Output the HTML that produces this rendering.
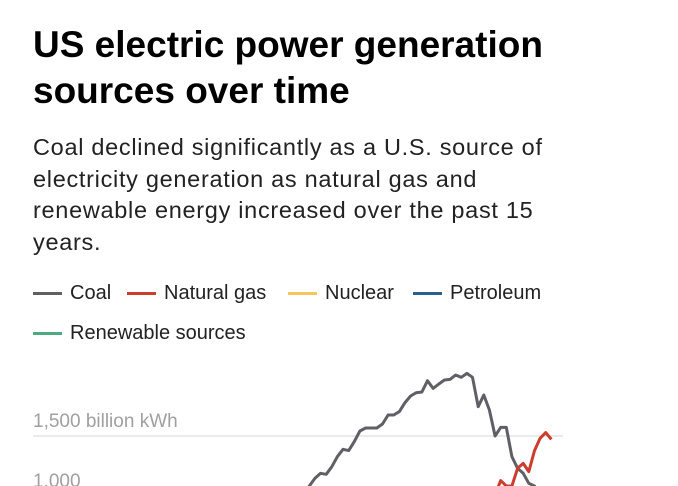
<!DOCTYPE html>
<html><head><meta charset="utf-8"><style>
body{margin:0;background:#fff;width:678px;height:486px;overflow:hidden;font-family:"Liberation Sans",sans-serif;position:relative}
#title{position:absolute;left:33px;top:22px;font-size:37px;font-weight:bold;line-height:46px;color:#000;margin:0;letter-spacing:0;white-space:nowrap}
#sub{position:absolute;left:33px;top:132px;font-size:23.5px;line-height:31.5px;color:#222;margin:0;white-space:nowrap;letter-spacing:0.7px}
.leg{position:absolute;font-size:20px;color:#222;display:flex;align-items:center;white-space:nowrap}
.sw{display:inline-block;width:29px;height:3px;margin-right:8px}
svg{position:absolute;left:0;top:0;overflow:hidden}
</style></head><body>
<h1 id="title">US electric power generation<br>sources over time</h1>
<p id="sub">Coal declined significantly as a U.S. source of<br>electricity generation as natural gas and<br>renewable energy increased over the past 15<br>years.</p>
<div class="leg" style="left:33px;top:282px"><span class="sw" style="background:#5f5f66"></span>Coal</div>
<div class="leg" style="left:127px;top:282px"><span class="sw" style="background:#cc3d2e"></span>Natural gas</div>
<div class="leg" style="left:288px;top:282px"><span class="sw" style="background:#f6c85b"></span>Nuclear</div>
<div class="leg" style="left:413px;top:282px"><span class="sw" style="background:#28608f"></span>Petroleum</div>
<div class="leg" style="left:33px;top:322px"><span class="sw" style="background:#4ea981"></span>Renewable sources</div>
<svg id="chart" width="678" height="486"></svg>
<script>
const coalYears=[1970,1972,1974,1976,1977,1978,1979,1980,1981,1982,1983,1984,1985,1986,1987,1988,1989,1990,1991,1992,1993,1994,1995,1996,1997,1998,1999,2000,2001,2002,2003,2004,2005,2006,2007,2008,2009,2010,2011,2012,2013,2014,2015,2016,2017,2018,2019,2020,2021,2022,2023];
const coalValues=[700,770,830,940,1010,1083,1147,1189,1181,1244,1328,1389,1378,1453,1542,1567,1567,1567,1600,1675,1675,1703,1778,1833,1861,1867,1961,1897,1933,1967,1972,2008,1989,2022,1989,1744,1842,1717,1500,1572,1572,1328,1231,1189,1106,1083,900,780,880,820,650];
const gasYears=[2008,2009,2010,2011,2012,2013,2014,2015,2016,2017,2018,2019,2020,2021];
const gasValues=[880,920,980,1010,1128,1083,1083,1231,1272,1203,1378,1481,1528,1472];
const nuclearYears=[1990,2000,2010,2021];
const nuclearValues=[577,754,807,779];
const petroleumYears=[1990,2000,2010,2021];
const petroleumValues=[118,105,37,19];
const renewYears=[1990,2000,2010,2021];
const renewValues=[350,350,420,850];
const yTicks=[1000,1500];
const yTickLabels=["1,000","1,500 billion kWh"];
const NS="http://www.w3.org/2000/svg";
const svg=document.getElementById('chart');
const xScale=y=>146+(y-1949)*5.63;
const yScale=v=>436-(v-1500)*0.12;
yTicks.forEach((t,i)=>{
  const l=document.createElementNS(NS,'line');
  
  
  l.setAttribute('x1',33);l.setAttribute('x2',563);l.setAttribute('y1',yScale(t));l.setAttribute('y2',yScale(t));
  l.setAttribute('stroke','#e3e3e3');l.setAttribute('stroke-width',1.5);
  svg.appendChild(l);
  const tx=document.createElementNS(NS,'text');
  
  
  tx.setAttribute('x',33);tx.setAttribute('y',yScale(t)-9);
  tx.setAttribute('font-size','19');tx.setAttribute('fill','#a0a0a0');
  tx.setAttribute('font-family','Liberation Sans, sans-serif');
  tx.textContent=yTickLabels[i];
  svg.appendChild(tx);
});
function line(xs,vs,color,name){
  const p=document.createElementNS(NS,'path');
  
  
  p.setAttribute('d',xs.map((y,i)=>(i?'L':'M')+xScale(y).toFixed(1)+','+yScale(vs[i]).toFixed(1)).join(''));
  p.setAttribute('fill','none');p.setAttribute('stroke',color);p.setAttribute('stroke-width',3);
  p.setAttribute('stroke-linejoin','round');
  svg.appendChild(p);
}
line(renewYears,renewValues,'#4ea981','renewable-line');
line(petroleumYears,petroleumValues,'#28608f','petroleum-line');
line(nuclearYears,nuclearValues,'#f6c85b','nuclear-line');
line(coalYears,coalValues,'#5f5f66','coal-line');
line(gasYears,gasValues,'#cc3d2e','natural-gas-line');
</script>
</body></html>
